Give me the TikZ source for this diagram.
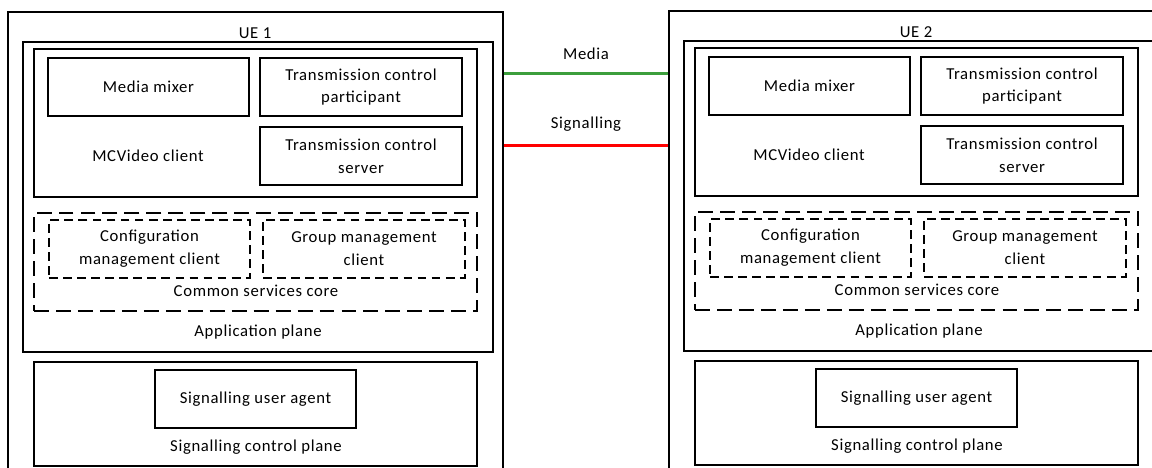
\documentclass[tikz,border=0pt]{standalone}
\usepackage{fontspec}
\setmainfont{Carlito}[LetterSpace=4]
\usepackage{tikz}
\usetikzlibrary{calc}

\definecolor{mediagreen}{RGB}{60,158,60}
\definecolor{sigred}{RGB}{255,0,0}

\tikzset{
    blk/.style={draw, line width=0.8pt, inner sep=0pt, align=center},
    dblk/.style={blk, dash pattern=on 5pt off 3pt},
    corebox/.style={blk, dash pattern=on 8.5pt off 4pt},
    lbl/.style={inner sep=0pt, align=center},
    link/.style={line width=1.6pt}
}

\begin{document}
\begin{tikzpicture}[x=0.02cm, y=-0.02cm, font=\fontsize{9.5}{13}\selectfont]
    \useasboundingbox (0,0) rectangle (1152,467);
    \clip (0,0) rectangle (1152,467);

    % the two UEs, same layout
    \foreach \i/\dx/\dy in {1/0/0, 2/661/-1} {
        \begin{scope}[shift={(\dx,\dy)}]
            \node[blk, minimum width=9.9cm, minimum height=9.36cm] (ue\i) at (255.5,246) {};
            \node[lbl] (uename\i) at (255,33) {UE \i};

            \node[blk, minimum width=9.4cm, minimum height=6.2cm] (app\i) at (258,197) {};
            \node[blk, minimum width=8.86cm, minimum height=2.96cm] (cli\i) at (255.5,123) {};
            \node[blk, minimum width=4.02cm, minimum height=1.16cm] (mix\i) at (148.5,87) {Media mixer};
            \node[blk, minimum width=4.04cm, minimum height=1.16cm] (tcp\i) at (361,87) {Transmission control\\participant};
            \node[blk, minimum width=4.04cm, minimum height=1.16cm] (tcs\i) at (361,156) {Transmission control\\server};
            \node[lbl] (clitext\i) at (148,156) {MCVideo client};

            \node[corebox, minimum width=8.86cm, minimum height=1.96cm] (csc\i) at (255.5,262) {};
            \node[dblk, minimum width=4.02cm, minimum height=1.16cm] (cmc\i) at (149.5,249) {Configuration\\management client};
            \node[dblk, minimum width=4.04cm, minimum height=1.16cm] (gmc\i) at (364,249) {Group management\\client};
            \node[lbl] (csctext\i) at (256,291) {Common services core};
            \node[lbl] (apptext\i) at (258,332) {Application plane};

            \node[blk, minimum width=8.86cm, minimum height=2.08cm] (scp\i) at (255.5,414) {};
            \node[blk, minimum width=4.02cm, minimum height=1.16cm] (sua\i) at (255.5,399) {Signalling user agent};
            \node[lbl] (scptext\i) at (256,447) {Signalling control plane};
        \end{scope}
    }

    % links between the UEs
    \draw[link, mediagreen] ($(ue1.north east)+(0,62)$) coordinate (m1)
        -- node[lbl, above=7pt, text=black] {Media} ($(ue2.north west)+(0,63)$);
    \draw[link, sigred] ($(ue1.north east)+(0,134)$) coordinate (s1)
        -- node[lbl, above=7pt, text=black] {Signalling} ($(ue2.north west)+(0,135)$);
\end{tikzpicture}
\end{document}
